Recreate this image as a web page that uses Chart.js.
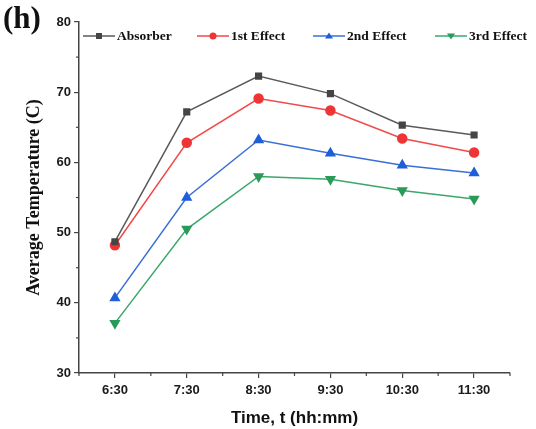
<!DOCTYPE html>
<html>
<head>
<meta charset="utf-8">
<script src="https://cdn.jsdelivr.net/npm/chart.js@4.4.0/dist/chart.umd.min.js"></script>
<style>
  html, body { margin: 0; padding: 0; background: #fff; }
  #wrap { width: 536px; height: 429px; }
</style>
</head>
<body>
<div id="wrap"><canvas id="tempChart" width="536" height="429"></canvas></div>
<script>
// datos
const times = ['6:30', '7:30', '8:30', '9:30', '10:30', '11:30'];
const absorber = [48.7, 67.2, 72.3, 69.8, 65.3, 63.9];
const firstEffect = [48.2, 62.8, 69.1, 67.4, 63.4, 61.4];
const secondEffect = [40.7, 55.0, 63.2, 61.3, 59.6, 58.5];
const thirdEffect = [37.1, 50.5, 58.0, 57.6, 56.0, 54.8];
const yTicks = [30, 40, 50, 60, 70, 80];

const axisColor = '#444';
const tickFont = { family: 'Liberation Sans, Arial', size: 13, weight: 'bold' };

const makeSet = (label, data, line, fill, style, rot, r) => ({
    label, data,
    borderColor: line,
    backgroundColor: fill,
    pointBackgroundColor: fill,
    pointBorderColor: fill,
    pointStyle: style,
    rotation: rot,
    pointRadius: r,
    borderWidth: 1.5,
    tension: 0
});

// leyenda y minor ticks dibujados a mano
const extras = {
    id: 'extras',
    afterDraw(chart) {
        const ctx = chart.ctx;
        const xs = chart.scales.x, ys = chart.scales.y;
        const area = chart.chartArea;
        ctx.save();
        ctx.strokeStyle = axisColor;
        ctx.lineWidth = 1.2;
        // minor ticks eje y
        for (let v = 35; v < 80; v += 10) {
            const py = ys.getPixelForValue(v);
            ctx.beginPath(); ctx.moveTo(area.left, py); ctx.lineTo(area.left - 3, py); ctx.stroke();
        }
        // minor ticks eje x (entre categorias y en los bordes)
        const step = xs.getPixelForValue(1) - xs.getPixelForValue(0);
        for (let i = 0; i <= times.length; i++) {
            const px = xs.getPixelForValue(0) - step / 2 + i * step;
            ctx.beginPath(); ctx.moveTo(px, area.bottom); ctx.lineTo(px, area.bottom + 3); ctx.stroke();
        }

        // etiqueta (h)
        ctx.fillStyle = '#111';
        ctx.font = 'bold 31px "Liberation Serif", "Times New Roman"';
        ctx.textBaseline = 'middle';
        ctx.textAlign = 'left';
        ctx.fillText('(h)', 3, 20);

        // leyenda
        const starts = [83, 197, 313, 435];
        ctx.font = 'bold 13.5px "Liberation Serif", "Times New Roman"';
        chart.data.datasets.forEach((ds, i) => {
            const x0 = starts[i], y0 = 36;
            ctx.strokeStyle = ds.borderColor;
            ctx.lineWidth = 1.5;
            ctx.beginPath(); ctx.moveTo(x0, y0); ctx.lineTo(x0 + 32, y0); ctx.stroke();
            const cx = x0 + 16;
            ctx.fillStyle = ds.pointBackgroundColor;
            ctx.beginPath();
            if (ds.pointStyle === 'rect') {
                ctx.rect(cx - 3, y0 - 3, 6, 6);
            } else if (ds.pointStyle === 'circle') {
                ctx.arc(cx, y0, 3.5, 0, Math.PI * 2);
            } else if (ds.rotation === 180) {
                ctx.moveTo(cx - 4, y0 - 2.5); ctx.lineTo(cx + 4, y0 - 2.5); ctx.lineTo(cx, y0 + 3.5); ctx.closePath();
            } else {
                ctx.moveTo(cx - 4, y0 + 2.5); ctx.lineTo(cx + 4, y0 + 2.5); ctx.lineTo(cx, y0 - 3.5); ctx.closePath();
            }
            ctx.fill();
            ctx.fillStyle = '#111';
            ctx.fillText(ds.label, x0 + 34, y0 + 1);
        });
        ctx.restore();
    }
};

const ctx = document.getElementById('tempChart').getContext('2d');
const tempChart = new Chart(ctx, {
    type: 'line',
    data: {
        labels: times,
        datasets: [
            makeSet('Absorber', absorber, '#5a5a5a', '#454545', 'rect', 0, 4),
            makeSet('1st Effect', firstEffect, '#f04a4a', '#ee3535', 'circle', 0, 4.5),
            makeSet('2nd Effect', secondEffect, '#3a6fd8', '#1f5fd8', 'triangle', 0, 5),
            makeSet('3rd Effect', thirdEffect, '#3aa86a', '#2a9a58', 'triangle', 180, 5)
        ]
    },
    options: {
        responsive: false,
        animation: false,
        layout: { padding: { top: 22, right: 26, left: 0, bottom: 0 } },
        plugins: {
            legend: { display: false },
            tooltip: { enabled: false }
        },
        scales: {
            x: {
                offset: true,
                grid: { offset: false, drawOnChartArea: false, drawTicks: true, tickLength: 5, color: axisColor, lineWidth: 1.2 },
                border: { color: axisColor, width: 1.5 },
                ticks: { color: '#1a1a1a', font: tickFont, padding: 5, maxRotation: 0 },
                title: {
                    display: true, text: 'Time, t (hh:mm)', color: '#111',
                    font: { family: 'Liberation Sans, Arial', size: 17, weight: 'bold' },
                    padding: { top: 4, bottom: 0 }
                },
                afterFit(scale) { scale.height = 56; }
            },
            y: {
                min: 30, max: 80,
                afterBuildTicks(scale) { scale.ticks = yTicks.map(v => ({ value: v })); },
                grid: { drawOnChartArea: false, drawTicks: true, tickLength: 5, color: axisColor, lineWidth: 1.2 },
                border: { color: axisColor, width: 1.5 },
                ticks: { color: '#1a1a1a', font: tickFont, padding: 3 },
                title: {
                    display: true, text: 'Average Temperature (C)', color: '#111',
                    font: { family: 'Liberation Serif, Times New Roman', size: 18, weight: 'bold' },
                    padding: { top: 24, bottom: 4 }
                },
                afterFit(scale) { scale.width = 79; }
            }
        }
    },
    plugins: [extras]
});
</script>
</body>
</html>
